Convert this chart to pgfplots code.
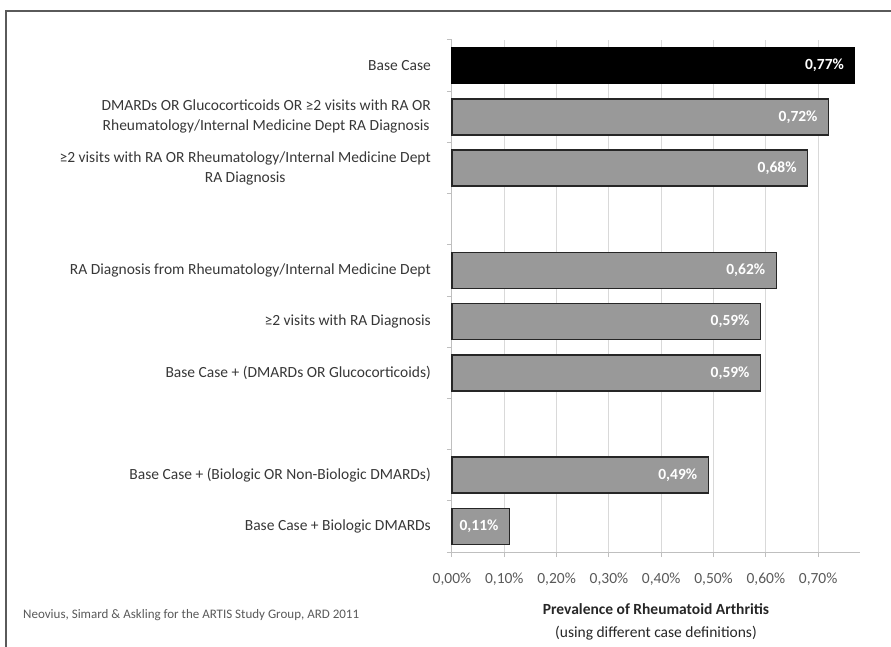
\documentclass[border=0pt]{standalone}
\usepackage{fontspec}
\setmainfont{Carlito}
\setsansfont{Carlito}
\usepackage{pgfplots}
\pgfplotsset{compat=1.18}
\definecolor{barGray}{RGB}{153,153,153}
\definecolor{labGray}{RGB}{55,55,55}
\definecolor{tickGray}{RGB}{89,89,89}
\definecolor{gridGray}{RGB}{217,217,217}
\definecolor{axGray}{RGB}{191,191,191}
\definecolor{frameGray}{RGB}{90,90,90}
\begin{document}
\begin{tikzpicture}
\path[use as bounding box] (-452pt,-94pt) rectangle (439pt,552pt);
\draw[line width=2pt, frameGray] (-446pt,-100pt) -- (-446pt,541pt) -- (445pt,541pt);
\begin{axis}[
  at={(0pt,0pt)}, anchor=south west,
  scale only axis, width=408pt, height=512pt,
  xmin=0, xmax=0.78, ymin=0, ymax=10,
  xbar, bar width=36pt,
  axis x line*=bottom, axis y line*=left,
  axis line style={axGray, line width=1pt},
  tick align=outside, major tick length=5pt,
  tick style={axGray, line width=1pt},
  xtick={0,0.1,0.2,0.3,0.4,0.5,0.6,0.7},
  xticklabel={\pgfmathprintnumber[fixed,fixed zerofill,precision=2,use comma]{\tick}\%},
  /pgf/number format/assume math mode=true,
  xticklabel style={font=\fontsize{15.5}{18}\selectfont, text=tickGray, anchor=center, yshift=-22pt},
  xmajorgrids, grid style={gridGray, line width=1pt},
  ytick={0,1,...,10}, yticklabels={},
  extra y ticks={0.5,1.5,3.5,4.5,5.5,7.5,8.5,9.5},
  extra y tick labels={
    Base Case + Biologic DMARDs,
    Base Case + (Biologic OR Non-Biologic DMARDs),
    Base Case + (DMARDs OR Glucocorticoids),
    ≥2 visits with RA Diagnosis,
    RA Diagnosis from Rheumatology/Internal Medicine Dept,
    {≥2 visits with RA OR Rheumatology/Internal Medicine Dept\\RA Diagnosis},
    {DMARDs OR Glucocorticoids OR ≥2 visits with RA OR\\Rheumatology/Internal Medicine Dept RA Diagnosis},
    Base Case},
  extra y tick style={tick style={draw=none}, yticklabel style={font=\fontsize{15.5}{20}\selectfont, text=labGray, align=center, anchor=east, inner sep=0pt, xshift=-16pt}},
  xlabel={\textbf{Prevalence of Rheumatoid Arthritis}\\(using different case definitions)},
  xlabel style={font=\fontsize{15.5}{23}\selectfont, align=center, anchor=center, at={(axis description cs:0.5,-0.1357)}, text=black!85},
  clip=false,
  point meta=x,
  nodes near coords={\pgfmathprintnumber[fixed,fixed zerofill,precision=2,use comma]{\pgfplotspointmeta}\%},
  every node near coord/.append style={anchor=east, xshift=-7pt, text=white, font=\fontsize{15.5}{18}\selectfont\bfseries},
]
\addplot[bar shift=0pt, fill=black, draw=black, line width=1pt] coordinates {(0.77,9.5)};
\addplot[bar shift=0pt, fill=barGray, draw=black!85, line width=1.5pt] coordinates {
  (0.72,8.5) (0.68,7.5) (0.62,5.5) (0.59,4.5) (0.59,3.5) (0.49,1.5) (0.11,0.5)};
\end{axis}
\node[anchor=west, inner sep=0pt, font=\fontsize{13}{15}\selectfont, text=tickGray] at (-429pt,-63pt) {Neovius, Simard \& Askling for the ARTIS Study Group, ARD 2011};
\end{tikzpicture}
\end{document}
